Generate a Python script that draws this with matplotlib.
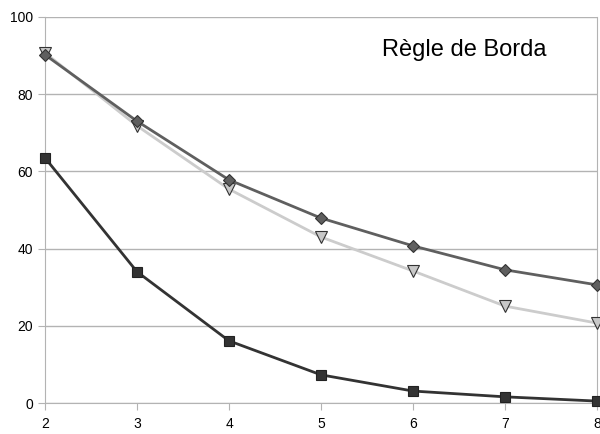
import matplotlib
matplotlib.use("Agg")
import matplotlib.pyplot as plt

plt.rcParams['font.family'] = ['Liberation Sans', 'DejaVu Sans']

x = [2, 3, 4, 5, 6, 7, 8]
carres = [63.5, 34.0, 16.1, 7.3, 3.1, 1.6, 0.5]
losanges = [90.2, 73.0, 57.8, 47.9, 40.7, 34.5, 30.6]
triangles = [90.7, 71.8, 55.4, 43.0, 34.2, 25.1, 20.7]

fig = plt.figure(figsize=(6, 4.34), dpi=100)
ax = fig.add_axes([0.075, 0.0714, 0.920, 0.8896])

ax.plot(x, triangles, color='#cccccc', lw=2.0, marker='v', ms=9,
        mfc='#c8c8c8', mec='#333333', mew=0.8, zorder=3)
ax.plot(x, losanges, color='#5f5f5f', lw=2.0, marker='D', ms=6.5,
        mfc='#5f5f5f', mec='#333333', mew=0.8, zorder=4)
ax.plot(x, carres, color='#333333', lw=2.0, marker='s', ms=6.5,
        mfc='#333333', mec='#222222', mew=0.8, zorder=5)

ax.set_xlim(2, 8)
ax.set_ylim(0, 100)
ax.set_xticks(x)
ax.set_yticks([0, 20, 40, 60, 80, 100])
ax.grid(axis='y', color='#b3b3b3', lw=1)
ax.set_axisbelow(True)
ax.spines['top'].set_visible(False)
for s in ['left', 'bottom', 'right']:
    ax.spines[s].set_color('#b3b3b3')
ax.tick_params(colors='#b3b3b3', labelcolor='black', labelsize=10, length=5)
ax.tick_params(axis='x', pad=5)
for ln in ax.lines:
    ln.set_clip_on(False)

ax.text(0.61, 0.915, 'Règle de Borda', transform=ax.transAxes,
        fontsize=17, ha='left', va='center')

fig.savefig('out.png', dpi=100)
